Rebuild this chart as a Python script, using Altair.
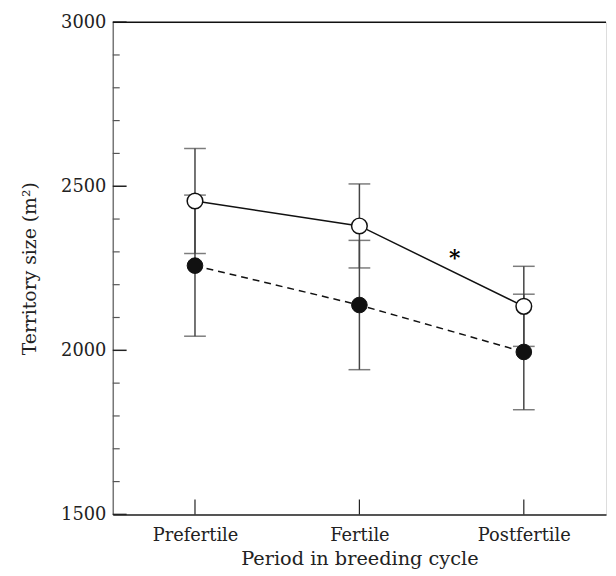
import altair as alt
import pandas as pd

categories = ["Prefertile", "Fertile", "Postfertile"]
open_mean = [2455, 2379, 2134]
open_se = [160, 128, 122]
filled_mean = [2258, 2138, 1995]
filled_se = [215, 197, 176]
major_ticks = [1500, 2000, 2500, 3000]
minor_ticks = [1600, 1700, 1800, 1900, 2100, 2200, 2300, 2400, 2600, 2700, 2800, 2900]
star_pos = 1.58
star_value = 2282

FONT = "DejaVu Serif"
W, H = 499, 498

rows = []
for i, c in enumerate(categories):
    rows.append(dict(pos=i, cat=c, group="open", mean=open_mean[i],
                     lo=open_mean[i] - open_se[i], hi=open_mean[i] + open_se[i]))
    rows.append(dict(pos=i, cat=c, group="filled", mean=filled_mean[i],
                     lo=filled_mean[i] - filled_se[i], hi=filled_mean[i] + filled_se[i]))
df = pd.DataFrame(rows)
df_open = df[df.group == "open"]
df_filled = df[df.group == "filled"]

label_expr = "datum.value == 0 ? 'Prefertile' : datum.value == 1 ? 'Fertile' : datum.value == 2 ? 'Postfertile' : ''"

xscale = alt.Scale(domain=[-0.5, 2.5], nice=False, zero=False)
yscale = alt.Scale(domain=[1500, 3000], nice=False, zero=False)

x_axis = alt.Axis(values=[0, 1, 2], labelExpr=label_expr, ticks=False,
                  grid=False, title="Period in breeding cycle",
                  domainColor="#222222", domainWidth=1.5,
                  labelFont=FONT, labelFontSize=18, labelColor="#222222",
                  labelPadding=12, titleFont=FONT, titleFontSize=19.5,
                  titleFontWeight="normal", titleColor="#222222", titlePadding=6)
y_axis = alt.Axis(values=major_ticks, ticks=False, grid=False,
                  title="Territory size (m²)", domainColor="#777777",
                  domainWidth=1.5, labelFont=FONT, labelFontSize=18,
                  labelColor="#222222", labelPadding=7, format="d",
                  titleFont=FONT, titleFontSize=19, titleFontWeight="normal",
                  titleColor="#222222", titlePadding=21)


def X(field="pos"):
    return alt.X(field + ":Q", scale=xscale, axis=x_axis)


def Y(field):
    return alt.Y(field + ":Q", scale=yscale, axis=y_axis)


err_open = alt.Chart(df_open).mark_rule(color="#444444", strokeWidth=1.5).encode(
    x=X(), y=Y("lo"), y2="hi:Q")
err_filled = alt.Chart(df_filled).mark_rule(color="#444444", strokeWidth=1.5).encode(
    x=X(), y=Y("lo"), y2="hi:Q")

caps = []
for d in (df_open, df_filled):
    for f in ("lo", "hi"):
        caps.append(alt.Chart(d).mark_tick(color="#444444", orient="horizontal",
                                           size=22, thickness=1.5).encode(
            x=X(), y=Y(f)))

line_open = alt.Chart(df_open).mark_line(color="#111111", strokeWidth=1.5).encode(
    x=X(), y=Y("mean"))
line_filled = alt.Chart(df_filled).mark_line(color="#111111", strokeWidth=1.5,
                                             strokeDash=[7, 5]).encode(
    x=X(), y=Y("mean"))
pts_open = alt.Chart(df_open).mark_point(shape="circle", filled=True, fill="white",
                                         stroke="#111111", strokeWidth=1.5,
                                         size=250, opacity=1).encode(
    x=X(), y=Y("mean"))
pts_filled = alt.Chart(df_filled).mark_point(shape="circle", filled=True, fill="#111111",
                                             stroke="#111111", strokeWidth=1,
                                             size=250, opacity=1).encode(
    x=X(), y=Y("mean"))

ticks_df = pd.DataFrame({"v": major_ticks + minor_ticks,
                         "major": [True] * len(major_ticks) + [False] * len(minor_ticks)})
ymajor = alt.Chart(ticks_df[ticks_df.major]).mark_rule(color="#222222", strokeWidth=1.5).encode(
    y=Y("v"), x=alt.value(0), x2=alt.value(14))
yminor = alt.Chart(ticks_df[~ticks_df.major]).mark_rule(color="#555555", strokeWidth=1.2).encode(
    y=Y("v"), x=alt.value(0), x2=alt.value(7))
xt_df = pd.DataFrame({"pos": [0, 1, 2]})
xticks = alt.Chart(xt_df).mark_rule(color="#222222", strokeWidth=1.2).encode(
    x=X(), y=alt.value(H - 15), y2=alt.value(H))

top_line = alt.Chart(pd.DataFrame({"v": [3000]})).mark_rule(color="#111111", strokeWidth=1.5).encode(
    y=Y("v"), x=alt.value(0), x2=alt.value(W))

star = alt.Chart(pd.DataFrame({"pos": [star_pos], "v": [star_value], "t": ["*"]})).mark_text(
    font=FONT, fontSize=22, fontWeight="bold", color="#000000",
    baseline="middle", align="center").encode(
    x=X(), y=Y("v"), text="t:N")

chart = alt.layer(
    err_open, err_filled, *caps, line_open, line_filled, pts_open, pts_filled,
    ymajor, yminor, xticks, top_line, star
).properties(
    width=W, height=H,
    autosize=alt.AutoSizeParams(type="none"),
    padding={"left": 106, "top": 11, "right": 2, "bottom": 59},
).configure_view(stroke="#777777", strokeWidth=1.5).configure(background="white")

chart.save("out.html", embed_options={"renderer": "svg", "actions": False})
